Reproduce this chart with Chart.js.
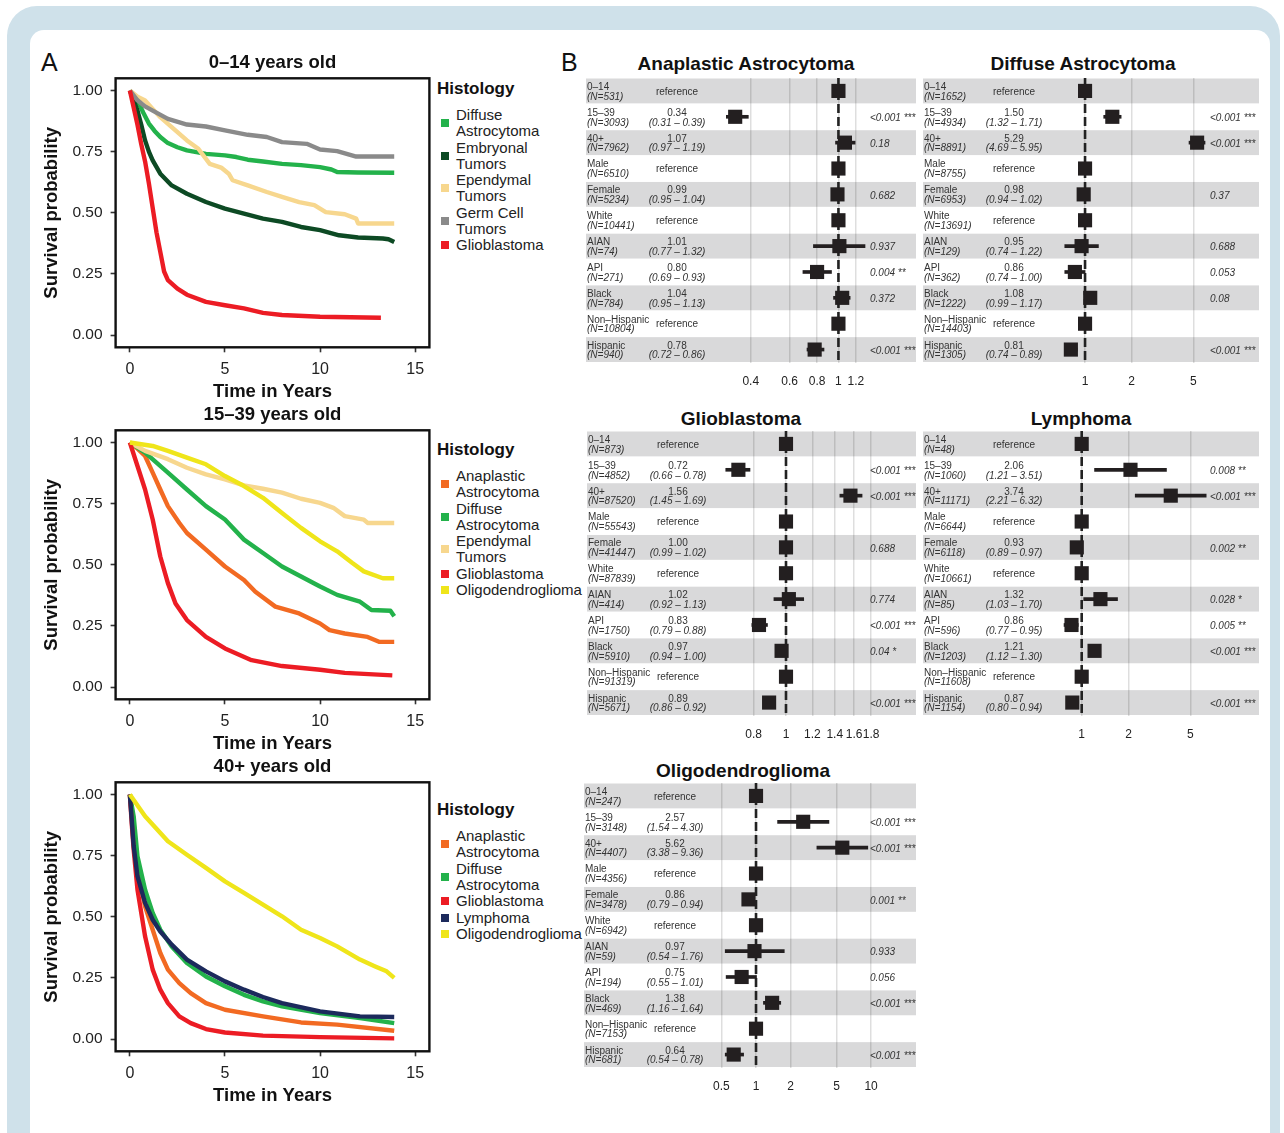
<!DOCTYPE html>
<html>
<head>
<meta charset="utf-8">
<script src="https://cdn.jsdelivr.net/npm/chart.js@4.4.1/dist/chart.umd.min.js"></script>
<style>
  html, body { margin: 0; padding: 0; }
  body { width: 1284px; height: 1133px; position: relative; overflow: hidden; background: #fff;
         font-family: "Liberation Sans", Arial, Helvetica, sans-serif; color: #111; }
  #frame { position: absolute; left: 7px; top: 6px; width: 1273px; height: 1160px; background: #cfe1ea; border-radius: 30px; }
  #sheet { position: absolute; left: 30px; top: 30px; width: 1240px; height: 1130px; background: #fff; border-radius: 14px; }
  canvas { position: absolute; }
  .tag { position: absolute; font-size: 25px; line-height: 25px; }
  .ptitle { position: absolute; font-weight: bold; font-size: 19px; line-height: 19px; white-space: nowrap; transform: translateX(-50%); }
  .legend { position: absolute; left: 437px; }
  .legend h4 { margin: 0 0 8px 0; font-size: 17px; line-height: 20px; font-weight: bold; }
  .legend .item { position: relative; padding-left: 19px; font-size: 15px; line-height: 16px; white-space: pre; margin-bottom: 0.5px; color: #222; }
  .legend .item i { position: absolute; left: 4px; top: 50%; width: 8px; height: 8px; margin-top: -4px; }
</style>
</head>
<body>
<div id="frame"></div>
<div id="sheet"></div>
<div class="tag" style="left:41px;top:50px">A</div>
<div class="tag" style="left:561px;top:50px">B</div>
<script>
const FONT = '"Liberation Sans", Arial, Helvetica, sans-serif';

// ---------- panel A: survival curves, [years, survival probability] ----------
const timeTicks = [0, 5, 10, 15];
const survTicks = [0, 0.25, 0.5, 0.75, 1];

const kidTitle = '0–14 years old';
const kidNames = ['Diffuse\nAstrocytoma', 'Embryonal\nTumors', 'Ependymal\nTumors', 'Germ Cell\nTumors', 'Glioblastoma'];
const kidColors = ['#23b24b', '#0d4a24', '#f7d78e', '#8a8a8a', '#ec1c24'];
const kidDiffuse = [[0,1],[0.4,0.96],[0.7,0.91],[1,0.865],[1.3,0.835],[1.6,0.81],[2,0.785],[2.5,0.768],[3,0.755],[3.5,0.748],[4,0.741],[5,0.735],[5.6,0.728],[6.2,0.717],[7,0.71],[8,0.70],[9,0.695],[10,0.687],[10.6,0.677],[10.9,0.667],[12,0.665],[13.9,0.664]];
const kidEmbryonal = [[0,1],[0.2,0.96],[0.4,0.918],[0.6,0.86],[0.8,0.796],[1,0.75],[1.2,0.714],[1.6,0.66],[2.2,0.612],[3,0.578],[4,0.544],[5,0.517],[6,0.497],[7,0.476],[8,0.463],[9,0.442],[10,0.429],[11,0.408],[12,0.399],[13.3,0.395],[13.6,0.392],[13.9,0.381]];
const kidEpendymal = [[0,1],[0.4,0.975],[0.8,0.959],[1.2,0.925],[1.6,0.891],[2.2,0.85],[3,0.796],[3.6,0.762],[4.2,0.70],[4.8,0.685],[5.2,0.66],[5.4,0.633],[6.2,0.612],[7.2,0.585],[8,0.565],[8.9,0.544],[9.7,0.531],[10.3,0.503],[11.3,0.494],[11.9,0.476],[12,0.456],[13.9,0.456]];
const kidGermCell = [[0,1],[0.4,0.96],[0.8,0.935],[1.2,0.918],[2,0.884],[3,0.861],[4,0.853],[5,0.837],[6.2,0.819],[7.2,0.81],[8,0.789],[9.3,0.782],[10,0.759],[10.9,0.752],[11.9,0.73],[13.9,0.73]];
const kidGlioblastoma = [[0,1],[0.2,0.93],[0.4,0.86],[0.6,0.78],[0.8,0.71],[1,0.62],[1.2,0.52],[1.4,0.42],[1.6,0.34],[1.8,0.26],[2,0.225],[2.5,0.19],[3,0.165],[4,0.136],[5,0.122],[6,0.109],[7,0.091],[8,0.082],[10,0.075],[13.2,0.071]];

const ayaTitle = '15–39 years old';
const ayaNames = ['Anaplastic\nAstrocytoma', 'Diffuse\nAstrocytoma', 'Ependymal\nTumors', 'Glioblastoma', 'Oligodendroglioma'];
const ayaColors = ['#f26a22', '#23b24b', '#f7d78e', '#ec1c24', '#efe51a'];
const ayaAnaplastic = [[0,1],[0.4,0.975],[0.8,0.945],[1.2,0.877],[1.6,0.808],[2,0.74],[2.6,0.671],[3,0.63],[4,0.562],[5,0.493],[6,0.438],[6.6,0.39],[7.65,0.329],[8.9,0.301],[10,0.26],[10.5,0.233],[11.3,0.219],[12.5,0.205],[13.1,0.185],[13.9,0.185]];
const ayaDiffuse = [[0,1],[0.8,0.959],[2,0.877],[3,0.808],[4,0.74],[5,0.685],[6,0.603],[7,0.548],[8,0.493],[9,0.452],[10,0.411],[10.9,0.377],[12.1,0.349],[12.7,0.315],[13.7,0.312],[13.9,0.29]];
const ayaEpendymal = [[0,1],[0.8,0.966],[2,0.932],[3,0.897],[4,0.87],[5,0.849],[6,0.825],[7,0.811],[8,0.795],[9,0.77],[10,0.753],[10.7,0.733],[11.3,0.699],[12.3,0.685],[12.5,0.671],[13.9,0.671]];
const ayaGlioblastoma = [[0,1],[0.4,0.904],[0.8,0.808],[1.2,0.685],[1.6,0.534],[2,0.425],[2.4,0.342],[3,0.274],[4,0.205],[5,0.158],[6.4,0.11],[8,0.086],[10,0.071],[11.3,0.058],[13.8,0.048]];
const ayaOligo = [[0,1],[1.2,0.986],[2,0.966],[3,0.938],[4,0.911],[5,0.863],[6,0.822],[7,0.774],[8,0.712],[9,0.651],[10,0.596],[10.9,0.555],[11.7,0.507],[12.3,0.473],[13.3,0.445],[13.9,0.445]];

const oldTitle = '40+ years old';
const oldNames = ['Anaplastic\nAstrocytoma', 'Diffuse\nAstrocytoma', 'Glioblastoma', 'Lymphoma', 'Oligodendroglioma'];
const oldColors = ['#f26a22', '#23b24b', '#ec1c24', '#1c2a5c', '#efe51a'];
const oldAnaplastic = [[0,1],[0.2,0.84],[0.4,0.693],[0.8,0.543],[1.2,0.447],[1.6,0.352],[2,0.284],[2.6,0.229],[3.2,0.188],[4,0.147],[5,0.12],[7,0.093],[9,0.068],[10.9,0.059],[13.9,0.034]];
const oldDiffuse = [[0,1],[0.2,0.911],[0.4,0.748],[0.8,0.611],[1.2,0.516],[1.6,0.447],[2.2,0.379],[3,0.311],[4,0.256],[5,0.216],[6,0.181],[7,0.154],[8,0.134],[10,0.106],[12.1,0.086],[13.9,0.065]];
const oldGlioblastoma = [[0,1],[0.1,0.88],[0.2,0.775],[0.4,0.611],[0.8,0.42],[1.2,0.284],[1.6,0.202],[2,0.147],[2.6,0.093],[3.2,0.065],[4,0.041],[5,0.027],[7,0.014],[10,0.008],[13.9,0.003]];
const oldLymphoma = [[0,1],[0.2,0.789],[0.4,0.666],[0.8,0.557],[1.2,0.488],[1.6,0.44],[2.2,0.386],[3,0.325],[4,0.277],[5,0.236],[6,0.202],[7,0.172],[8,0.147],[10,0.113],[12.1,0.093],[13.9,0.09]];
const oldOligo = [[0,1],[0.8,0.911],[2,0.809],[3,0.754],[4,0.70],[5,0.645],[6,0.598],[7,0.55],[8,0.502],[9,0.447],[10,0.413],[10.9,0.379],[12.1,0.325],[12.9,0.297],[13.5,0.277],[13.9,0.25]];

// ---------- panel B: hazard ratios (null = reference level) ----------
const forestRows = ['0–14', '15–39', '40+', 'Male', 'Female', 'White', 'AIAN', 'API', 'Black', 'Non–Hispanic', 'Hispanic'];

const anaN  = [531, 3093, 7962, 6510, 5234, 10441, 74, 271, 784, 10804, 940];
const anaHR = [null, 0.34, 1.07, null, 0.99, null, 1.01, 0.80, 1.04, null, 0.78];
const anaLo = [null, 0.31, 0.97, null, 0.95, null, 0.77, 0.69, 0.95, null, 0.72];
const anaHi = [null, 0.39, 1.19, null, 1.04, null, 1.32, 0.93, 1.13, null, 0.86];
const anaP  = ['', '<0.001 ***', '0.18', '', '0.682', '', '0.937', '0.004 **', '0.372', '', '<0.001 ***'];
const anaTicks = [0.4, 0.6, 0.8, 1, 1.2];
const anaRange = [0.3025, 1.42];

const difN  = [1652, 4934, 8891, 8755, 6953, 13691, 129, 362, 1222, 14403, 1305];
const difHR = [null, 1.50, 5.29, null, 0.98, null, 0.95, 0.86, 1.08, null, 0.81];
const difLo = [null, 1.32, 4.69, null, 0.94, null, 0.74, 0.74, 0.99, null, 0.74];
const difHi = [null, 1.71, 5.95, null, 1.02, null, 1.22, 1.00, 1.17, null, 0.89];
const difP  = ['', '<0.001 ***', '<0.001 ***', '', '0.37', '', '0.688', '0.053', '0.08', '', '<0.001 ***'];
const difTicks = [1, 2, 5];
const difRange = [0.71, 6.6];

const gbmN  = [873, 4852, 87520, 55543, 41447, 87839, 414, 1750, 5910, 91319, 5671];
const gbmHR = [null, 0.72, 1.56, null, 1.00, null, 1.02, 0.83, 0.97, null, 0.89];
const gbmLo = [null, 0.66, 1.45, null, 0.99, null, 0.92, 0.79, 0.94, null, 0.86];
const gbmHi = [null, 0.78, 1.69, null, 1.02, null, 1.13, 0.88, 1.00, null, 0.92];
const gbmP  = ['', '<0.001 ***', '<0.001 ***', '', '0.688', '', '0.774', '<0.001 ***', '0.04 *', '', '<0.001 ***'];
const gbmTicks = [0.8, 1, 1.2, 1.4, 1.6, 1.8];
const gbmRange = [0.652, 1.81];

const lymN  = [48, 1060, 11171, 6644, 6118, 10661, 85, 596, 1203, 11608, 1154];
const lymHR = [null, 2.06, 3.74, null, 0.93, null, 1.32, 0.86, 1.21, null, 0.87];
const lymLo = [null, 1.21, 2.21, null, 0.89, null, 1.03, 0.77, 1.12, null, 0.80];
const lymHi = [null, 3.51, 6.32, null, 0.97, null, 1.70, 0.95, 1.30, null, 0.94];
const lymP  = ['', '0.008 **', '<0.001 ***', '', '0.002 **', '', '0.028 *', '0.005 **', '<0.001 ***', '', '<0.001 ***'];
const lymTicks = [1, 2, 5];
const lymRange = [0.747, 6.89];

const oliN  = [247, 3148, 4407, 4356, 3478, 6942, 59, 194, 469, 7153, 681];
const oliHR = [null, 2.57, 5.62, null, 0.86, null, 0.97, 0.75, 1.38, null, 0.64];
const oliLo = [null, 1.54, 3.38, null, 0.79, null, 0.54, 0.55, 1.16, null, 0.54];
const oliHi = [null, 4.30, 9.36, null, 0.94, null, 1.76, 1.01, 1.64, null, 0.78];
const oliP  = ['', '<0.001 ***', '<0.001 ***', '', '0.001 **', '', '0.933', '0.056', '<0.001 ***', '', '<0.001 ***'];
const oliTicks = [0.5, 1, 2, 5, 10];
const oliRange = [0.527, 10.18];

// ---------- helpers ----------
function makeCanvas(left, top, w, h) {
  const c = document.createElement('canvas');
  c.width = w; c.height = h;
  c.style.left = left + 'px'; c.style.top = top + 'px';
  c.style.width = w + 'px'; c.style.height = h + 'px';
  document.body.appendChild(c);
  return c;
}

function addLegend(top, names, colors) {
  const box = document.createElement('div');
  box.className = 'legend';
  box.style.top = top + 'px';
  box.innerHTML = '<h4>Histology</h4>' + names.map((n, i) =>
    `<div class="item"><i style="background:${colors[i]}"></i>${n}</div>`).join('');
  document.body.appendChild(box);
}

function addTitle(text, cx, top) {
  const d = document.createElement('div');
  d.className = 'ptitle';
  d.style.left = cx + 'px'; d.style.top = top + 'px';
  d.textContent = text;
  document.body.appendChild(d);
}

const framePlugin = {
  id: 'frame',
  afterDatasetsDraw(chart) {
    const {ctx, chartArea: a} = chart;
    ctx.save();
    ctx.lineWidth = 2.4;
    ctx.strokeStyle = '#111';
    ctx.strokeRect(a.left, a.top, a.right - a.left, a.bottom - a.top);
    ctx.restore();
  }
};

function survivalChart(top, title, names, colors, curves, legendTop) {
  const canvas = makeCanvas(36, top, 400, 363);
  new Chart(canvas, {
    type: 'line',
    data: {
      datasets: curves.map((pts, i) => ({
        label: names[i].replace('\n', ' '),
        data: pts.map(p => ({x: p[0], y: p[1]})),
        borderColor: colors[i],
        borderWidth: 4.4,
        pointRadius: 0,
        tension: 0,
        fill: false,
        borderJoinStyle: 'round',
        order: names.length - i
      }))
    },
    options: {
      responsive: false,
      animation: false,
      events: [],
      layout: {autoPadding: false, padding: {left: 0, right: 6.6, top: 0, bottom: 0}},
      plugins: {
        legend: {display: false},
        tooltip: {enabled: false},
        title: {display: true, text: title, fullSize: false, color: '#111',
                font: {family: FONT, size: 18.5, weight: 'bold'}, padding: {top: 2, bottom: 4.1}}
      },
      scales: {
        x: {
          type: 'linear', min: -0.75, max: 15.75, bounds: 'data',
          afterBuildTicks: s => { s.ticks = timeTicks.map(v => ({value: v})); },
          afterFit: s => { s.height = 65.7; },
          grid: {drawOnChartArea: false, drawTicks: true, tickLength: 5, tickColor: '#333', tickWidth: 1.6},
          border: {display: false},
          ticks: {font: {family: FONT, size: 16}, color: '#222', padding: 8, maxRotation: 0, autoSkip: false},
          title: {display: true, text: 'Time in Years', color: '#111',
                  font: {family: FONT, size: 18.5, weight: 'bold'}, padding: {top: 0, bottom: 9.9}}
        },
        y: {
          type: 'linear', min: -0.05, max: 1.05, bounds: 'data',
          afterBuildTicks: s => { s.ticks = survTicks.map(v => ({value: v})); },
          afterFit: s => { s.width = 79.6; },
          grid: {drawOnChartArea: false, drawTicks: true, tickLength: 5, tickColor: '#333', tickWidth: 1.6},
          border: {display: false},
          ticks: {font: {family: FONT, size: 15.5}, color: '#222', padding: 8, autoSkip: false,
                  callback: v => Number(v).toFixed(2)},
          title: {display: true, text: 'Survival probability', color: '#111',
                  font: {family: FONT, size: 18.5, weight: 'bold'}, padding: {top: 4.9, bottom: 0}}
        }
      }
    },
    plugins: [framePlugin]
  });
  addLegend(legendTop, names, colors);
}

function forestChart(box, title, counts, hr, lo, hi, pvals, ticks, range) {
  const w = box.right - box.left;
  const canvas = makeCanvas(box.left, box.top, w, 317);
  addTitle(title, box.titleX, box.titleY);

  const decor = {
    id: 'forestDecor',
    beforeDraw(chart) {
      const {ctx, scales: {y}} = chart;
      const half = (y.getPixelForValue(1) - y.getPixelForValue(0)) / 2;
      ctx.save();
      ctx.fillStyle = '#d9d9da';
      forestRows.forEach((r, i) => {
        if (i % 2 === 0) {
          const c = y.getPixelForValue(i);
          ctx.fillRect(0, c - half + 0.5, chart.width, 2 * half - 1);
        }
      });
      ctx.restore();
    },
    beforeDatasetsDraw(chart) {
      const {ctx, chartArea: a, scales: {x}} = chart;
      const px = x.getPixelForValue(1);
      ctx.save();
      ctx.strokeStyle = '#222';
      ctx.lineWidth = 2.6;
      ctx.setLineDash([9, 4]);
      ctx.beginPath();
      ctx.moveTo(px, a.top);
      ctx.lineTo(px, a.bottom);
      ctx.stroke();
      ctx.restore();
    },
    afterDraw(chart) {
      const {ctx, chartArea: a, scales: {y}} = chart;
      ctx.save();
      ctx.fillStyle = '#333';
      ctx.textBaseline = 'middle';
      forestRows.forEach((name, i) => {
        const cy = y.getPixelForValue(i);
        ctx.textAlign = 'left';
        ctx.font = `10px ${FONT}`;
        ctx.fillText(name, 1, cy - 3.8);
        ctx.font = `italic 10px ${FONT}`;
        ctx.fillText(`(N=${counts[i]})`, 1, cy + 6);
        ctx.textAlign = 'center';
        if (hr[i] == null) {
          ctx.font = `10px ${FONT}`;
          ctx.fillText('reference', 91, cy + 1);
        } else {
          ctx.font = `10px ${FONT}`;
          ctx.fillText(hr[i].toFixed(2), 91, cy - 3.8);
          ctx.font = `italic 10px ${FONT}`;
          ctx.fillText(`(${lo[i].toFixed(2)} – ${hi[i].toFixed(2)})`, 91, cy + 6);
        }
        if (pvals[i]) {
          ctx.textAlign = 'left';
          ctx.font = `italic 10px ${FONT}`;
          ctx.fillText(pvals[i], a.right - 2, cy + 1.5);
        }
      });
      ctx.restore();
    }
  };

  new Chart(canvas, {
    type: 'bar',
    data: {
      labels: forestRows,
      datasets: [
        {
          type: 'line',
          data: forestRows.map((r, i) => ({x: hr[i] == null ? 1 : hr[i], y: r})),
          showLine: false,
          pointStyle: 'rect',
          pointRadius: 10,
          pointBorderWidth: 0,
          pointBackgroundColor: '#231f20',
          pointBorderColor: '#231f20',
          clip: false,
          order: 0
        },
        {
          type: 'bar',
          data: forestRows.map((r, i) => hr[i] == null ? null : [lo[i], hi[i]]),
          backgroundColor: '#231f20',
          barThickness: 3,
          clip: false,
          order: 1
        }
      ]
    },
    options: {
      indexAxis: 'y',
      responsive: false,
      animation: false,
      events: [],
      layout: {autoPadding: false, padding: {left: box.plotLeft - box.left, right: box.right - box.plotRight, top: 2, bottom: 0}},
      plugins: {legend: {display: false}, tooltip: {enabled: false}},
      scales: {
        x: {
          type: 'logarithmic', min: range[0], max: range[1], bounds: 'data',
          afterBuildTicks: s => { s.ticks = ticks.map(v => ({value: v})); },
          afterFit: s => { s.height = 30.5; },
          grid: {drawOnChartArea: true, drawTicks: false, color: 'rgba(0,0,0,0.13)', lineWidth: 1.5},
          border: {display: false},
          ticks: {font: {family: FONT, size: 12}, color: '#222', padding: 12, autoSkip: false, maxRotation: 0,
                  callback: v => String(v)}
        },
        y: {type: 'category', offset: true, display: false, grid: {display: false}}
      }
    },
    plugins: [decor]
  });
}

// ---------- build ----------
survivalChart(50, kidTitle, kidNames, kidColors,
  [kidDiffuse, kidEmbryonal, kidEpendymal, kidGermCell, kidGlioblastoma], 79);
survivalChart(402, ayaTitle, ayaNames, ayaColors,
  [ayaAnaplastic, ayaDiffuse, ayaEpendymal, ayaGlioblastoma, ayaOligo], 440);
survivalChart(754, oldTitle, oldNames, oldColors,
  [oldAnaplastic, oldDiffuse, oldGlioblastoma, oldLymphoma, oldOligo], 800);

forestChart({left: 586, right: 916, top: 76, plotLeft: 724, plotRight: 872, titleX: 746, titleY: 54},
  'Anaplastic Astrocytoma', anaN, anaHR, anaLo, anaHi, anaP, anaTicks, anaRange);
forestChart({left: 923, right: 1259, top: 76, plotLeft: 1062, plotRight: 1212, titleX: 1083, titleY: 54},
  'Diffuse Astrocytoma', difN, difHR, difLo, difHi, difP, difTicks, difRange);
forestChart({left: 587, right: 916, top: 429, plotLeft: 724, plotRight: 872, titleX: 741, titleY: 409},
  'Glioblastoma', gbmN, gbmHR, gbmLo, gbmHi, gbmP, gbmTicks, gbmRange);
forestChart({left: 923, right: 1259, top: 429, plotLeft: 1062, plotRight: 1212, titleX: 1081, titleY: 409},
  'Lymphoma', lymN, lymHR, lymLo, lymHi, lymP, lymTicks, lymRange);
forestChart({left: 584, right: 916, top: 781, plotLeft: 724, plotRight: 872, titleX: 743, titleY: 761},
  'Oligodendroglioma', oliN, oliHR, oliLo, oliHi, oliP, oliTicks, oliRange);
</script>
</body>
</html>
